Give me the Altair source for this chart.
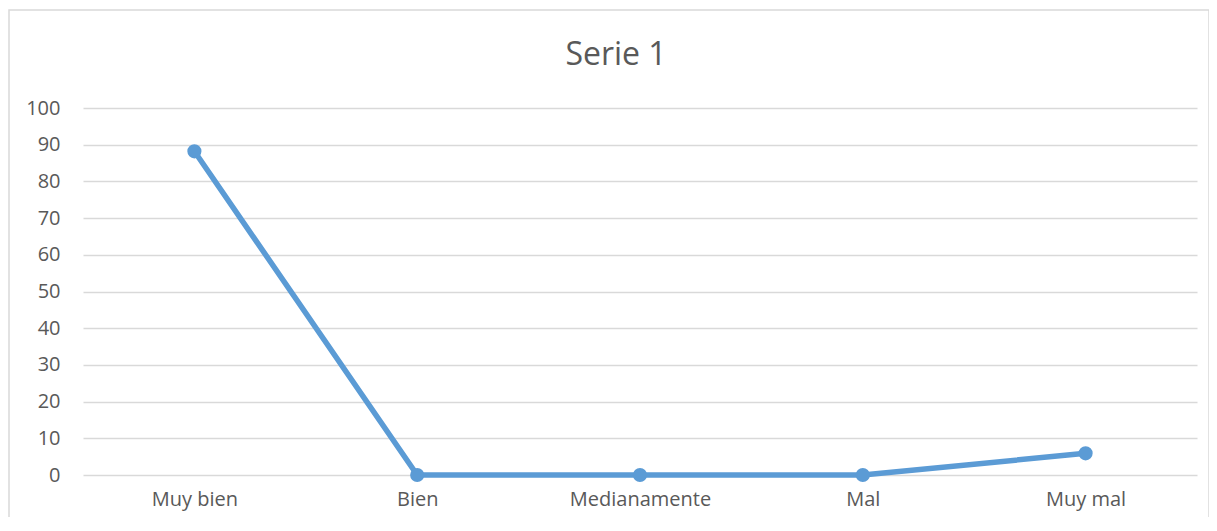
import altair as alt
import pandas as pd

categories = ["Muy bien", "Bien", "Medianamente", "Mal", "Muy mal"]
values = [88.2, 0, 0, 0, 5.9]
y_ticks = [0, 10, 20, 30, 40, 50, 60, 70, 80, 90, 100]
title_text = "Serie 1"

df = pd.DataFrame({"cat": categories, "val": values})

FONT = "Open Sans"
GREY = "#595959"
BLUE = "#5b9bd5"

x_enc = alt.X("cat:N", sort=categories, scale=alt.Scale(type="point", padding=0.5),
              axis=alt.Axis(title=None, labelAngle=0, ticks=False, domain=False,
                            labelFont=FONT, labelFontSize=20, labelColor=GREY,
                            labelPadding=14, grid=False))
y_enc = alt.Y("val:Q", scale=alt.Scale(domain=[0, 100], nice=False),
              axis=alt.Axis(title=None, values=y_ticks, ticks=False, domain=False,
                            labelFont=FONT, labelFontSize=20, labelColor=GREY,
                            labelOverlap=False, labelPadding=23,
                            gridColor="#d9d9d9", gridWidth=1.5))

base = alt.Chart(df)

border = alt.Chart(pd.DataFrame({"a": [0]})).mark_rect(
    fill="transparent", stroke="#d9d9d9", strokeWidth=1.5
).encode(
    x=alt.value(-74), x2=alt.value(1126),
    y=alt.value(-98), y2=alt.value(470)
)

line = base.mark_line(color=BLUE, strokeWidth=5.5).encode(x=x_enc, y=y_enc)

points = base.mark_circle(color=BLUE, opacity=1, size=200).encode(x=x_enc, y=y_enc)

title = alt.Chart(pd.DataFrame({"t": [title_text]})).mark_text(
    font=FONT, fontSize=32, color=GREY, align="center", baseline="middle"
).encode(
    text="t:N", x=alt.value(533), y=alt.value(-53)
)

chart = alt.layer(border, line, points, title).properties(
    width=1114, height=367,
    background="white",
    autosize=alt.AutoSizeParams(type="none"),
    padding={"left": 75, "top": 100, "right": 12, "bottom": 42},
).configure_view(stroke=None, strokeWidth=0)

chart.save("out.html", embed_options={"renderer": "svg", "actions": False})
